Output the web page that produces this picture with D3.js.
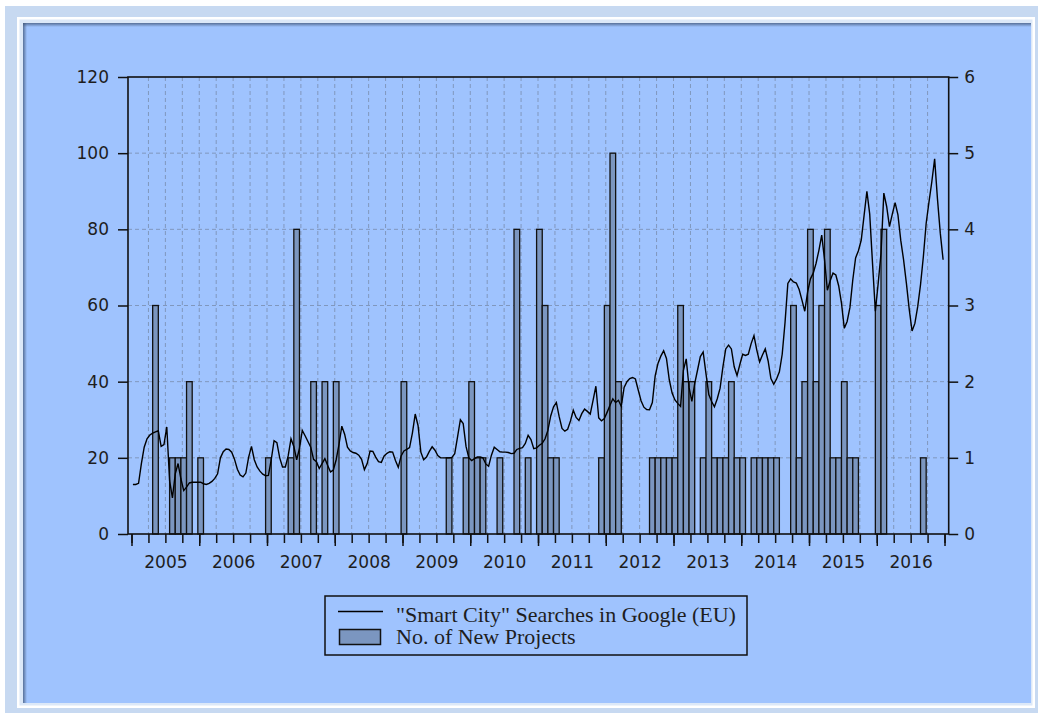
<!DOCTYPE html>
<html>
<head>
<meta charset="utf-8">
<script src="https://cdn.jsdelivr.net/npm/d3@7"></script>
<style>
  html, body { margin: 0; padding: 0; background: #ffffff; }
  svg { display: block; }
</style>
</head>
<body>
<div id="chart"></div>
<script>
// ---------------- DATA ----------------
const years = [2005, 2006, 2007, 2008, 2009, 2010, 2011, 2012, 2013, 2014, 2015, 2016];
const leftTicks = [0, 20, 40, 60, 80, 100, 120];
const rightTicks = [0, 1, 2, 3, 4, 5, 6];
const legendLabels = ['"Smart City" Searches in Google (EU)', 'No. of New Projects'];

// "Smart City" Google searches, two readings per month (Jan 2005 .. Dec 2016)
const searches2005 = [13.0,13.0,13.3,18.5,22.8,25.0,26.0,26.5,26.8,27.1,23.0,23.5,28.1,14.0,9.5,15.8,18.5,14.5,11.4,12.3,13.4,13.6,13.6,13.6];
const searches2006 = [13.6,13.2,13.0,13.3,13.8,14.6,15.8,20.0,21.6,22.3,22.2,21.5,19.6,17.0,15.5,15.0,16.0,20.2,23.0,19.5,17.6,16.5,15.7,15.3];
const searches2007 = [15.4,19.5,24.5,24.0,20.0,17.6,17.6,20.5,25.0,23.0,19.5,22.5,27.2,25.8,24.3,22.8,19.6,19.0,17.2,18.5,19.8,18.0,16.3,16.8];
const searches2008 = [19.5,23.5,28.3,26.2,22.8,21.8,21.4,21.2,20.7,19.6,16.9,18.5,21.8,21.7,20.2,19.0,18.8,20.5,21.2,21.6,21.5,19.3,17.5,20.5];
const searches2009 = [21.8,22.2,22.7,26.5,31.5,28.5,21.5,19.5,20.2,21.7,22.9,22.0,20.6,20.0,20.0,20.0,20.0,20.1,21.1,25.5,30.0,29.0,23.0,20.0];
const searches2010 = [19.3,19.8,20.2,20.2,20.0,18.4,17.8,20.7,22.8,22.2,21.6,21.5,21.5,21.4,21.1,21.2,22.2,22.5,22.7,23.8,25.9,24.8,22.4,22.6];
const searches2011 = [23.3,23.8,25.0,27.2,31.0,33.4,34.5,30.8,27.7,27.0,27.5,29.7,32.5,30.6,29.8,31.6,32.8,32.2,31.5,35.1,38.8,30.5,29.7,30.3];
const searches2012 = [32.0,33.8,35.5,34.5,35.1,33.5,38.5,40.0,40.8,41.1,40.7,37.8,35.0,33.3,32.7,32.6,34.5,41.5,44.8,46.7,48.1,46.1,40.5,37.0];
const searches2013 = [35.2,34.3,33.5,43.0,46.0,38.5,34.8,39.5,43.0,46.6,47.8,42.1,36.6,34.8,33.4,35.5,38.3,43.9,48.6,49.6,48.6,43.9,41.6,44.5];
const searches2014 = [47.2,46.9,47.2,50.0,52.1,48.3,45.2,47.0,48.6,45.5,40.8,39.3,40.7,42.6,47.2,55.5,65.8,67.0,66.2,65.9,64.2,61.4,58.5,63.5];
const searches2015 = [67.0,68.5,71.1,74.5,78.5,72.0,64.0,66.5,68.5,68.0,65.2,60.6,54.0,55.8,59.5,66.7,72.5,74.4,77.2,83.6,90.0,84.0,71.0,58.5];
const searches2016 = [65.8,73.7,89.5,86.0,80.7,84.0,87.0,83.8,77.1,72.0,65.8,59.0,53.3,55.3,59.7,65.5,72.8,81.6,87.2,92.5,98.5,88.0,79.0,72.0];
const searchValues = [].concat(searches2005, searches2006, searches2007, searches2008, searches2009, searches2010,
  searches2011, searches2012, searches2013, searches2014, searches2015, searches2016);

// Number of new projects per month (Jan 2005 .. Dec 2016)
const projects2005 = [0,0,0,0,3,0,0,1,1,1,2,0];
const projects2006 = [1,0,0,0,0,0,0,0,0,0,0,0];
const projects2007 = [1,0,0,0,1,4,0,0,2,0,2,0];
const projects2008 = [2,0,0,0,0,0,0,0,0,0,0,0];
const projects2009 = [2,0,0,0,0,0,0,0,1,0,0,1];
const projects2010 = [2,1,1,0,0,1,0,0,4,0,1,0];
const projects2011 = [4,3,1,1,0,0,0,0,0,0,0,1];
const projects2012 = [3,5,2,0,0,0,0,0,1,1,1,1];
const projects2013 = [1,3,2,2,0,1,2,1,1,1,2,1];
const projects2014 = [1,0,1,1,1,1,1,0,0,3,1,2];
const projects2015 = [4,2,3,4,1,1,2,1,1,0,0,0];
const projects2016 = [3,4,0,0,0,0,0,0,1,0,0,0];
const projectCounts = [].concat(projects2005, projects2006, projects2007, projects2008, projects2009, projects2010,
  projects2011, projects2012, projects2013, projects2014, projects2015, projects2016);

// ---------------- DRAWING ----------------
const W = 1038, H = 713;
const plot = { left: 128, right: 948.7, top: 77, bottom: 534 };
const nMonths = years.length * 12;

const svg = d3.select('#chart').append('svg')
  .attr('width', W).attr('height', H);

const defs = svg.append('defs');
const gTop = defs.append('linearGradient').attr('id', 'shTop').attr('x1', 0).attr('y1', 0).attr('x2', 0).attr('y2', 1);
gTop.append('stop').attr('offset', '0%').attr('stop-color', '#3f5476').attr('stop-opacity', 0.75);
gTop.append('stop').attr('offset', '100%').attr('stop-color', '#3f5476').attr('stop-opacity', 0);
const gLeft = defs.append('linearGradient').attr('id', 'shLeft').attr('x1', 0).attr('y1', 0).attr('x2', 1).attr('y2', 0);
gLeft.append('stop').attr('offset', '0%').attr('stop-color', '#3f5476').attr('stop-opacity', 0.75);
gLeft.append('stop').attr('offset', '100%').attr('stop-color', '#3f5476').attr('stop-opacity', 0);

// frame / background
svg.append('rect').attr('x', 0).attr('y', 0).attr('width', W).attr('height', H).attr('fill', '#ffffff');
svg.append('rect').attr('x', 5).attr('y', 6).attr('width', W - 5).attr('height', H - 6).attr('fill', '#c7d9f1');
svg.append('rect').attr('x', 17).attr('y', 17).attr('width', 1018).attr('height', 691).attr('fill', '#ffffff');
svg.append('rect').attr('x', 19.5).attr('y', 19.5).attr('width', 1013).attr('height', 686).attr('fill', '#dce8f8');
svg.append('rect').attr('x', 23).attr('y', 23).attr('width', 1008).attr('height', 680).attr('fill', '#9fc3fe');
svg.append('rect').attr('x', 23).attr('y', 23).attr('width', 1008).attr('height', 4).attr('fill', 'url(#shTop)');
svg.append('rect').attr('x', 23).attr('y', 23).attr('width', 4).attr('height', 680).attr('fill', 'url(#shLeft)');

// scales
const x = d3.scaleLinear().domain([-0.87, 144.49]).range([plot.left, plot.right]);
const yL = d3.scaleLinear().domain([0, 120]).range([plot.bottom, plot.top]);
const yR = d3.scaleLinear().domain([0, 6]).range([plot.bottom, plot.top]);

const quarterPos = d3.range(0, nMonths + 1, 3).map(m => m - 0.25);
const yearPos = d3.range(0, nMonths + 1, 12).map(m => m - 0.25);
const yearLabelPos = years.map((yr, i) => i * 12 + 5.75);

const gridColor = '#8097bd';
// grid
const grid = svg.append('g');
grid.selectAll('line.h').data(leftTicks.filter(v => v > 0 && v < 120)).join('line')
  .attr('x1', plot.left).attr('x2', plot.right)
  .attr('y1', d => yL(d)).attr('y2', d => yL(d))
  .attr('stroke', gridColor).attr('stroke-width', 1).attr('stroke-dasharray', '4,3');
grid.selectAll('line.v').data(quarterPos.slice(1, -1)).join('line')
  .attr('x1', d => x(d)).attr('x2', d => x(d))
  .attr('y1', plot.top).attr('y2', plot.bottom)
  .attr('stroke', gridColor).attr('stroke-width', 1).attr('stroke-dasharray', '4,3');

// bars
const bw = x(1) - x(0);
svg.append('g').selectAll('rect').data(projectCounts.map((v, i) => ({ i, v })).filter(d => d.v > 0)).join('rect')
  .attr('x', d => x(d.i) - bw / 2)
  .attr('width', bw)
  .attr('y', d => yR(d.v))
  .attr('height', d => yR(0) - yR(d.v))
  .attr('fill', '#7b96c0')
  .attr('stroke', '#111')
  .attr('stroke-width', 1.3);

// line
const line = d3.line().x((d, i) => x(i / 2)).y(d => yL(d));
svg.append('path').datum(searchValues)
  .attr('d', line).attr('fill', 'none').attr('stroke', '#000').attr('stroke-width', 1.4)
  .attr('stroke-linejoin', 'miter');

// plot frame
svg.append('rect').attr('x', plot.left).attr('y', plot.top)
  .attr('width', plot.right - plot.left).attr('height', plot.bottom - plot.top)
  .attr('fill', 'none').attr('stroke', '#111').attr('stroke-width', 1.6);

const fontSans = '"DejaVu Sans", Verdana, sans-serif';
function styleAxis(g) {
  g.select('.domain').remove();
  g.selectAll('.tick line').attr('stroke', '#111').attr('stroke-width', 1.5);
  g.selectAll('.tick text').attr('fill', '#1e1e1e').style('font-family', fontSans).style('font-size', '17px');
}

// left axis
svg.append('g').attr('transform', `translate(${plot.left},0)`)
  .call(d3.axisLeft(yL).tickValues(leftTicks).tickSize(10).tickPadding(9).tickFormat(d3.format('d')))
  .call(styleAxis);
// right axis
svg.append('g').attr('transform', `translate(${plot.right},0)`)
  .call(d3.axisRight(yR).tickValues(rightTicks).tickSize(9.5).tickPadding(6).tickFormat(d3.format('d')))
  .call(styleAxis);
// bottom: quarter ticks
svg.append('g').attr('transform', `translate(0,${plot.bottom})`)
  .call(d3.axisBottom(x).tickValues(quarterPos).tickSize(9).tickFormat(''))
  .call(styleAxis);
// bottom: year ticks
svg.append('g').attr('transform', `translate(0,${plot.bottom})`)
  .call(d3.axisBottom(x).tickValues(yearPos).tickSize(12).tickFormat(''))
  .call(styleAxis);
// bottom: year labels
svg.append('g').attr('transform', `translate(0,${plot.bottom})`)
  .call(d3.axisBottom(x).tickValues(yearLabelPos).tickSize(0).tickPadding(22)
    .tickFormat((d, i) => String(years[i])))
  .call(styleAxis);

// legend
const lg = svg.append('g');
lg.append('rect').attr('x', 325).attr('y', 596).attr('width', 422).attr('height', 59)
  .attr('fill', 'none').attr('stroke', '#111').attr('stroke-width', 1.5);
lg.append('line').attr('x1', 338).attr('x2', 383).attr('y1', 611.5).attr('y2', 611.5)
  .attr('stroke', '#000').attr('stroke-width', 1.4);
lg.append('rect').attr('x', 339.5).attr('y', 629.5).attr('width', 41).attr('height', 15)
  .attr('fill', '#7b96c0').attr('stroke', '#111').attr('stroke-width', 1.5);
lg.selectAll('text').data(legendLabels).join('text')
  .attr('x', 396).attr('y', (d, i) => 621.5 + i * 22.8)
  .attr('fill', '#1e1e1e')
  .style('font-family', '"Liberation Serif", "Times New Roman", serif')
  .style('font-size', '22px')
  .text(d => d);
</script>
</body>
</html>
